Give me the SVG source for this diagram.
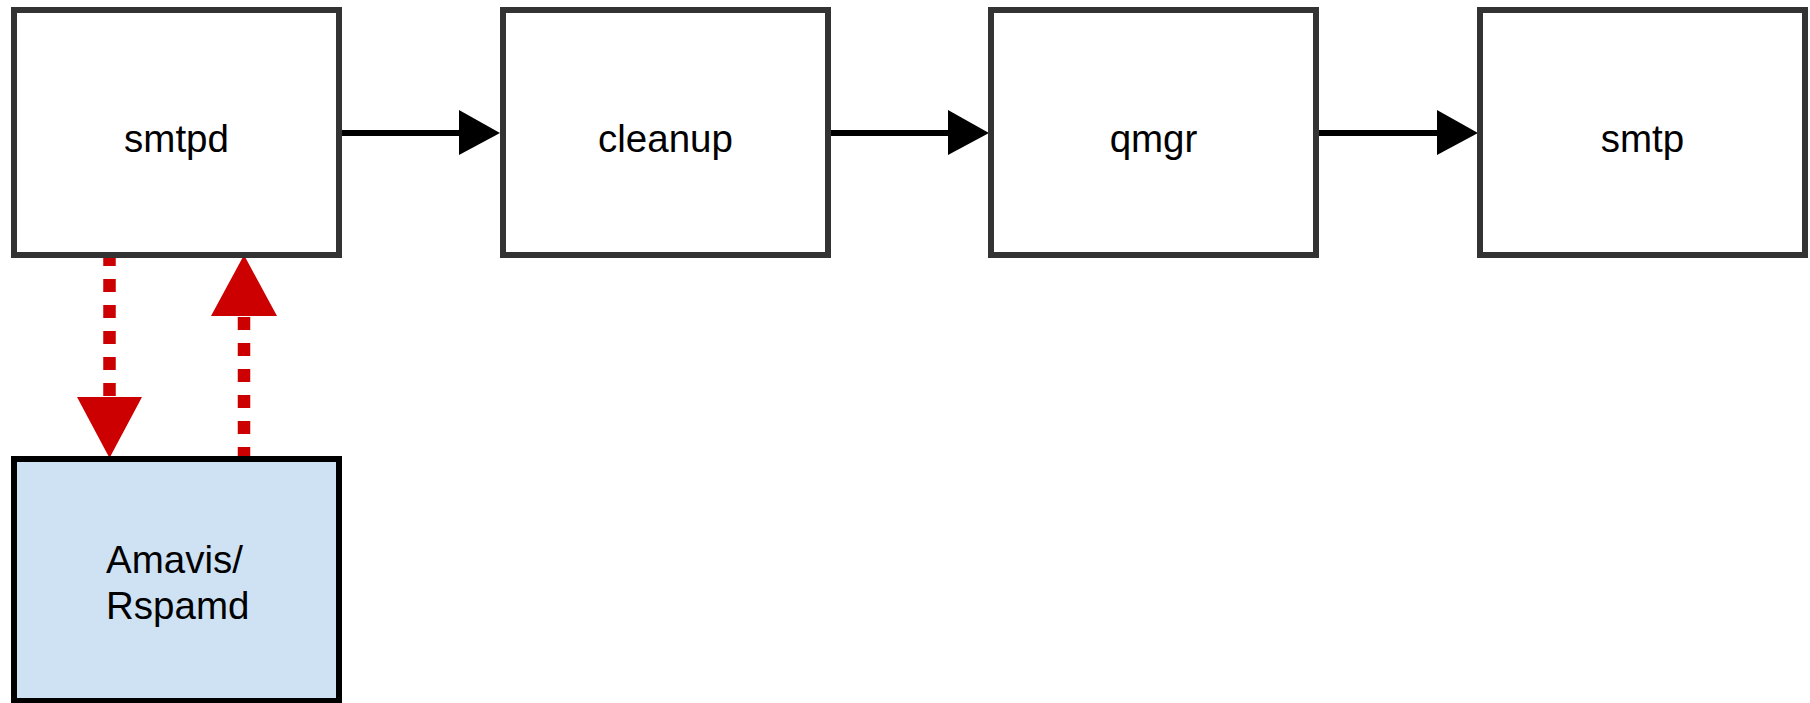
<svg xmlns="http://www.w3.org/2000/svg" width="1810" height="703" viewBox="0 0 1810 703">
<style>
.box{fill:#ffffff;stroke:#333333;stroke-width:6}
.spam{fill:#cfe2f3;stroke:#000000;stroke-width:6}
.lbl{font-family:"Liberation Sans",Arial,sans-serif;font-size:38.5px;fill:#000000}
.flow{stroke:#000000;stroke-width:6;fill:none}
.dash{stroke:#cc0000;stroke-width:12.5;stroke-dasharray:13 13;fill:none}
.head{fill:#000000}
.rhead{fill:#cc0000}
</style>
<rect width="1810" height="703" fill="#ffffff"/>
<g id="connectors">
<line class="flow" x1="339" y1="133" x2="462" y2="133"/>
<polygon class="head" points="459,110 500,133 459,155"/>
<line class="flow" x1="828" y1="133" x2="951" y2="133"/>
<polygon class="head" points="948,110 989,133 948,155"/>
<line class="flow" x1="1316" y1="133" x2="1440" y2="133"/>
<polygon class="head" points="1437,110 1478,133 1437,155"/>
<line class="dash" x1="109.5" y1="253" x2="109.5" y2="400"/>
<polygon class="rhead" points="77,397 142,397 109.5,458"/>
<line class="dash" x1="244" y1="460" x2="244" y2="313"/>
<polygon class="rhead" points="211,316 277,316 244,255"/>
</g>
<g id="smtpd">
<rect class="box" x="14" y="10" width="325" height="245"/>
<text class="lbl" x="176.5" y="152" text-anchor="middle">smtpd</text>
</g>
<g id="cleanup">
<rect class="box" x="503" y="10" width="325" height="245"/>
<text class="lbl" x="665.5" y="152" text-anchor="middle">cleanup</text>
</g>
<g id="qmgr">
<rect class="box" x="991" y="10" width="325" height="245"/>
<text class="lbl" x="1153.5" y="152" text-anchor="middle">qmgr</text>
</g>
<g id="smtp">
<rect class="box" x="1480" y="10" width="325" height="245"/>
<text class="lbl" x="1642.5" y="152" text-anchor="middle">smtp</text>
</g>
<g id="amavis">
<rect class="spam" x="14" y="459" width="325" height="242"/>
<text class="lbl" x="106" y="573">Amavis/</text>
<text class="lbl" x="106" y="619">Rspamd</text>
</g>
</svg>
